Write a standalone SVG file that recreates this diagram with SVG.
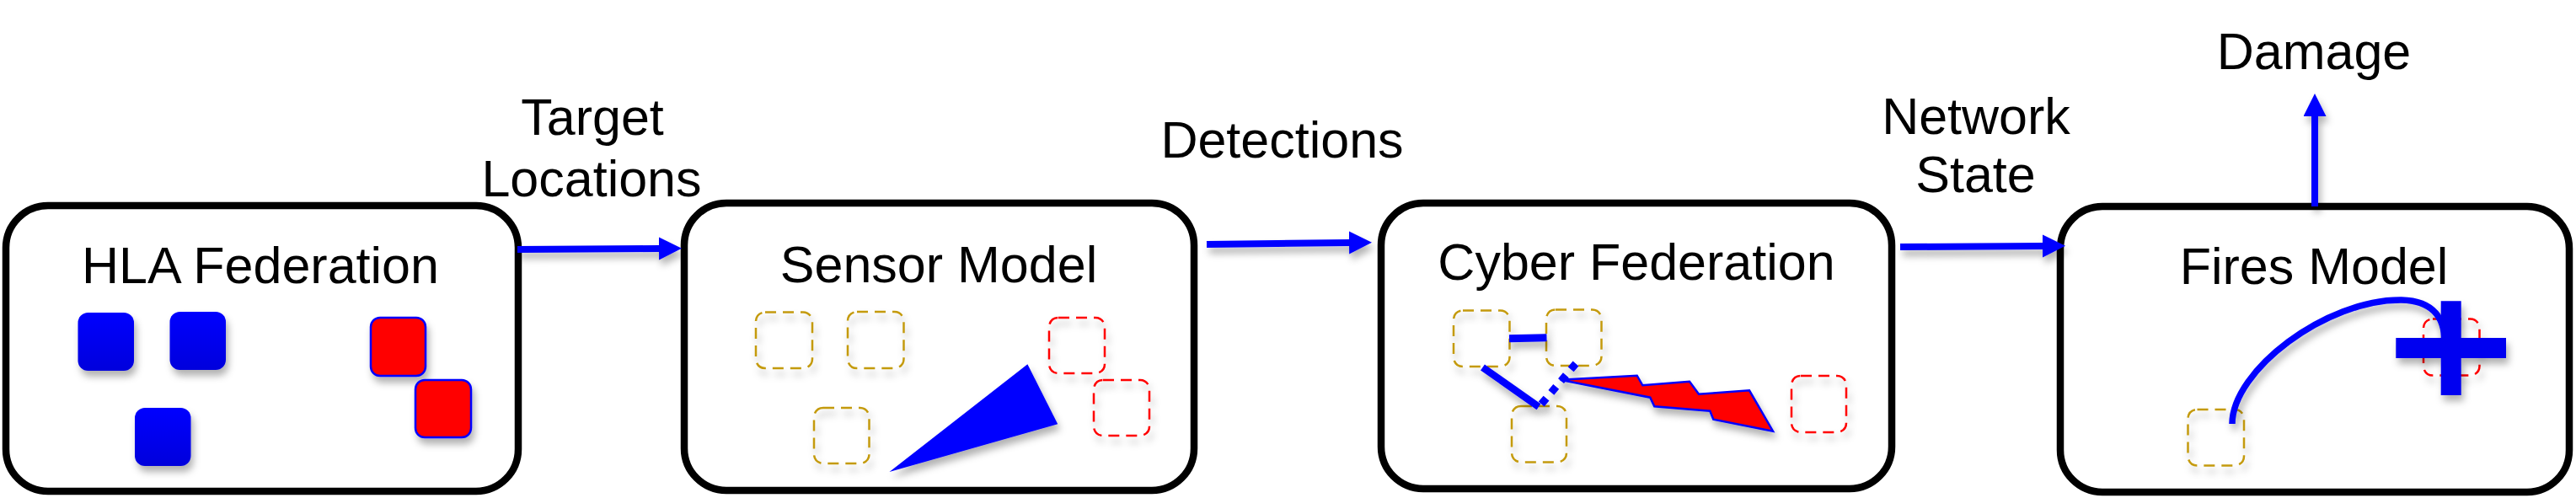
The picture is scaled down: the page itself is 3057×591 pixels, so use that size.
<svg xmlns="http://www.w3.org/2000/svg" width="3057" height="591" viewBox="0 0 3057 591">
<defs>
<filter id="sh" filterUnits="userSpaceOnUse" x="0" y="0" width="3057" height="591">
<feDropShadow dx="3" dy="7" stdDeviation="4" flood-color="#000" flood-opacity="0.3"/>
</filter>
<linearGradient id="bg" x1="0" y1="0" x2="0" y2="1">
<stop offset="0" stop-color="#0000ff"/>
<stop offset="1" stop-color="#0000dc"/>
</linearGradient>
<marker id="ah" markerUnits="userSpaceOnUse" markerWidth="30" markerHeight="30" refX="1" refY="13.5" orient="auto" viewBox="0 0 30 30">
<path d="M0,0 L27,13.5 L0,27 z" fill="#0000ff"/>
</marker>
</defs>
<style>
.box{fill:#fff;stroke:#000;stroke-width:8.5}
.t{font-family:"Liberation Sans",Arial,Helvetica,sans-serif;font-size:61px;fill:#000;text-anchor:middle}
.blu{fill:url(#bg);filter:url(#sh)}
.red{fill:#ff0000;stroke:#0000ff;stroke-width:2.5;filter:url(#sh)}
.gd{fill:none;stroke:#c49a0a;stroke-width:2.5;stroke-dasharray:13 8;filter:url(#sh)}
.rd{fill:none;stroke:#ff0000;stroke-width:2.5;stroke-dasharray:13 8;filter:url(#sh)}
.conn{stroke:#0000ff;stroke-width:8;fill:none;marker-end:url(#ah);filter:url(#sh)}
.bl{stroke:#0000ff;fill:none;filter:url(#sh)}
</style>
<rect width="3057" height="591" fill="#fff"/>

<g id="hla">
<rect class="box" x="7" y="244" width="608" height="339" rx="50"/>
<text class="t" x="309" y="336">HLA Federation</text>
<rect class="blu" x="92.5" y="371" width="66.5" height="69" rx="12"/>
<rect class="blu" x="201.5" y="370" width="66.5" height="69" rx="12"/>
<rect class="blu" x="160" y="484" width="66.5" height="69" rx="12"/>
<rect class="red" x="440" y="377" width="65" height="69" rx="11"/>
<rect class="red" x="493" y="451" width="66" height="68" rx="11"/>
</g>

<g id="sensor">
<rect class="box" x="812" y="241" width="605" height="341" rx="50"/>
<text class="t" x="1114" y="335">Sensor Model</text>
<rect class="gd" x="897" y="370.5" width="67" height="66.5" rx="11"/>
<rect class="gd" x="1006" y="370" width="66.5" height="67" rx="11"/>
<rect class="gd" x="966" y="484" width="65.5" height="66" rx="11"/>
<rect class="rd" x="1245" y="377" width="66" height="66" rx="11"/>
<rect class="rd" x="1298" y="451" width="66" height="66" rx="11"/>
<polygon points="1055.5,560 1219.4,432.3 1255.2,503.3" fill="#0000ff" filter="url(#sh)"/>
</g>

<g id="cyber">
<rect class="box" x="1639" y="241" width="606" height="339" rx="50"/>
<text class="t" x="1942" y="332">Cyber Federation</text>
<rect class="gd" x="1725" y="368.5" width="66.5" height="66.5" rx="11"/>
<rect class="gd" x="1835" y="367.5" width="65.5" height="66.5" rx="11"/>
<rect class="gd" x="1794" y="482" width="65" height="66.5" rx="11"/>
<rect class="rd" x="2126" y="446" width="65" height="67" rx="11"/>
<line class="bl" x1="1791" y1="401.7" x2="1835.5" y2="400.8" stroke-width="9"/>
<line class="bl" x1="1759.5" y1="436" x2="1826" y2="482.7" stroke-width="8.5"/>
<line class="bl" x1="1870" y1="431.5" x2="1825" y2="484.5" stroke-width="9" stroke-dasharray="9 9"/>
<polygon points="1851.7,450.7 1942.7,445.7 1949.3,457.3 2005,452.7 2016,467.7 2076,463.3 2104,511.7 2033.3,497.7 2029.3,487.7 1963.3,482.3 1958.3,471.7" fill="#ff0000" stroke="#0000ff" stroke-width="2.5" filter="url(#sh)"/>
</g>

<g id="fires">
<rect class="box" x="2445" y="245" width="604" height="339" rx="50"/>
<text class="t" x="2746" y="336.5">Fires Model</text>
<rect class="gd" x="2596.5" y="486" width="66.5" height="66.5" rx="11"/>
<rect class="rd" x="2876" y="378.5" width="66.5" height="67" rx="11"/>
<path class="bl" d="M2649,503 C2649,440 2760,355 2850,356 C2890,357 2901,380 2901,405" stroke-width="7.5"/>
<path d="M2896.7,357.3 H2920.7 V401 H2974 V425 H2920.7 V469 H2896.7 V425 H2843.3 V401 H2896.7 z" fill="#0000f0" filter="url(#sh)"/>
</g>

<g id="connectors">
<line class="conn" x1="614" y1="296" x2="783" y2="295"/>
<line class="conn" x1="1432" y1="290" x2="1602" y2="288"/>
<line class="conn" x1="2255" y1="293" x2="2425" y2="292"/>
<line class="conn" x1="2747" y1="245" x2="2747" y2="137"/>
</g>

<g id="labels">
<text class="t" x="703" y="160">Target</text>
<text class="t" x="702" y="233">Locations</text>
<text class="t" x="1521.5" y="187">Detections</text>
<text class="t" x="2345" y="159">Network</text>
<text class="t" x="2344.5" y="228">State</text>
<text class="t" x="2746" y="82">Damage</text>
</g>
</svg>
